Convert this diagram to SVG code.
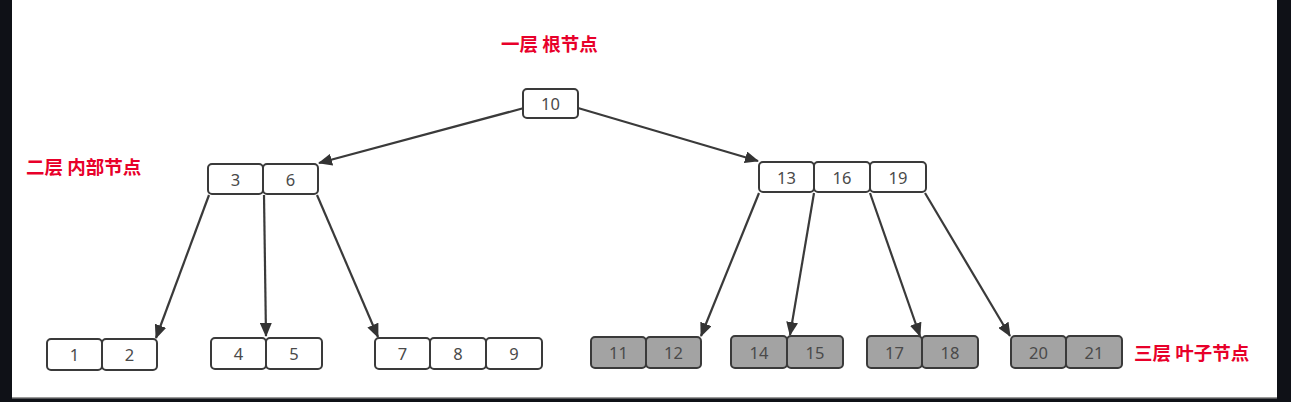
<svg xmlns="http://www.w3.org/2000/svg" width="1291" height="402" viewBox="0 0 1291 402">
<defs>
<style>
.k{fill:#fff;stroke:#3a3a3a;stroke-width:2}
.g{fill:#a3a3a3;stroke:#3a3a3a;stroke-width:2}
.t{font-family:"Noto Sans","DejaVu Sans",sans-serif;font-size:16.5px;fill:#4a4a4a;text-anchor:middle;dominant-baseline:central}
.lab{font-family:"Noto Sans CJK SC",sans-serif;font-size:18.5px;font-weight:bold;fill:#e8002a}
.c{stroke:#3a3a3a;stroke-width:2.2;fill:none;marker-end:url(#ah)}
</style>
<marker id="ah" viewBox="0 0 14 12" refX="13" refY="6" markerWidth="14" markerHeight="12" markerUnits="userSpaceOnUse" orient="auto">
<path d="M0,0 L14,6 L0,12 z" fill="#333"/>
</marker>
</defs>
<rect x="0" y="0" width="1291" height="402" fill="#0f1117"/>
<rect x="12" y="0" width="1265" height="398" fill="#fff"/>
<rect x="12" y="397" width="1265" height="1.5" fill="#9a9a9a"/>

<text class="lab" x="501" y="51">一层 根节点</text>
<text class="lab" x="26" y="174">二层 内部节点</text>
<text class="lab" x="1134" y="360">三层 叶子节点</text>

<g id="connectors">
<line class="c" x1="524" y1="108" x2="319" y2="163"/>
<line class="c" x1="578" y1="108" x2="758" y2="161"/>
<line class="c" x1="209" y1="195" x2="156" y2="338"/>
<line class="c" x1="264" y1="195" x2="266" y2="336"/>
<line class="c" x1="317" y1="195" x2="378" y2="337"/>
<line class="c" x1="759" y1="193" x2="701" y2="336"/>
<line class="c" x1="814" y1="193" x2="790" y2="335"/>
<line class="c" x1="870" y1="193" x2="920" y2="336"/>
<line class="c" x1="925" y1="193" x2="1010" y2="336"/>
</g>

<g id="n10"><rect class="k" x="523" y="89" width="55" height="29" rx="4"/><text class="t" x="550.5" y="103.5">10</text></g>

<g id="n3_6">
<rect class="k" x="208" y="164" width="55" height="30" rx="4"/><text class="t" x="235.5" y="179">3</text>
<rect class="k" x="263" y="164" width="55" height="30" rx="4"/><text class="t" x="290.5" y="179">6</text>
</g>

<g id="n13_16_19">
<rect class="k" x="759" y="162" width="55" height="30" rx="4"/><text class="t" x="786.5" y="177">13</text>
<rect class="k" x="814" y="162" width="56" height="30" rx="4"/><text class="t" x="842" y="177">16</text>
<rect class="k" x="870" y="162" width="56" height="30" rx="4"/><text class="t" x="898" y="177">19</text>
</g>

<g id="n1_2">
<rect class="k" x="47" y="339" width="55" height="31" rx="4"/><text class="t" x="74.5" y="354.5">1</text>
<rect class="k" x="102" y="339" width="55" height="31" rx="4"/><text class="t" x="129.5" y="354.5">2</text>
</g>

<g id="n4_5">
<rect class="k" x="211" y="338" width="55" height="31" rx="4"/><text class="t" x="238.5" y="353">4</text>
<rect class="k" x="266" y="338" width="56" height="31" rx="4"/><text class="t" x="294" y="353">5</text>
</g>

<g id="n7_8_9">
<rect class="k" x="375" y="338" width="55" height="31" rx="4"/><text class="t" x="402.5" y="353">7</text>
<rect class="k" x="430" y="338" width="56" height="31" rx="4"/><text class="t" x="458" y="353">8</text>
<rect class="k" x="486" y="338" width="56" height="31" rx="4"/><text class="t" x="514" y="353">9</text>
</g>

<g id="n11_12">
<rect class="g" x="591" y="337" width="55" height="31" rx="4"/><text class="t" x="618.5" y="352">11</text>
<rect class="g" x="646" y="337" width="55" height="31" rx="4"/><text class="t" x="673.5" y="352">12</text>
</g>

<g id="n14_15">
<rect class="g" x="731" y="336" width="56" height="32" rx="4"/><text class="t" x="759" y="352">14</text>
<rect class="g" x="787" y="336" width="56" height="32" rx="4"/><text class="t" x="815" y="352">15</text>
</g>

<g id="n17_18">
<rect class="g" x="867" y="336" width="55" height="32" rx="4"/><text class="t" x="894.5" y="352">17</text>
<rect class="g" x="922" y="336" width="56" height="32" rx="4"/><text class="t" x="950" y="352">18</text>
</g>

<g id="n20_21">
<rect class="g" x="1011" y="336" width="55" height="32" rx="4"/><text class="t" x="1038.5" y="352">20</text>
<rect class="g" x="1066" y="336" width="56" height="32" rx="4"/><text class="t" x="1094" y="352">21</text>
</g>
</svg>
